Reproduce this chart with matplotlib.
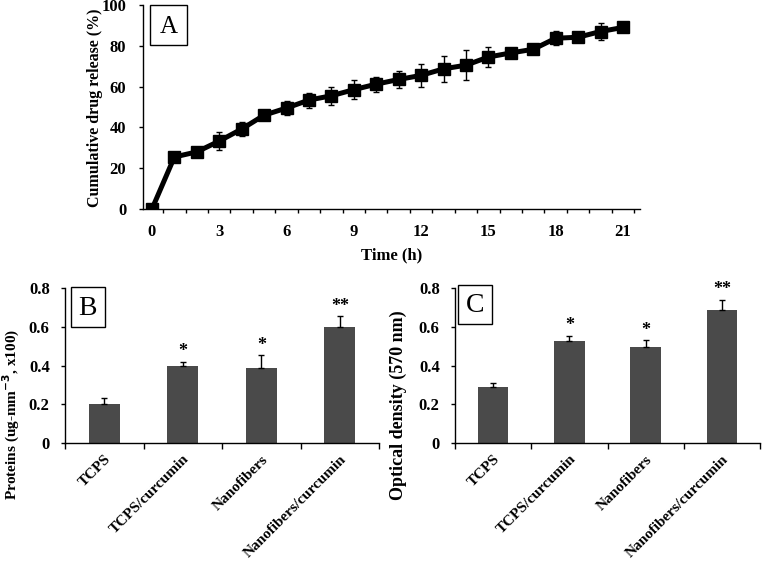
import numpy as np
import matplotlib
matplotlib.use("Agg")
import matplotlib.pyplot as plt
from matplotlib.patches import Rectangle

plt.rcParams['font.family'] = 'Liberation Serif'
plt.rcParams['font.weight'] = 'bold'

# Panel A data
time_h = list(range(22))
release = [0, 25.5, 28, 33.3, 39.2, 46, 49.5, 53.4, 55.5, 58.5, 61.2, 63.5,
           65.5, 68.7, 70.5, 74.5, 76.5, 78.3, 83.7, 84.2, 87, 89]
release_err = [0.5, 1, 1.5, 4.5, 3.5, 1.2, 3.5, 3.7, 4.5, 4.5, 3.7, 4.3,
               5.5, 6.5, 7.5, 4.8, 1.5, 2, 3.5, 2, 4, 2]

# Panels B and C data
groups = ["TCPS", "TCPS/curcumin", "Nanofibers", "Nanofibers/curcumin"]
proteins = [0.2, 0.399, 0.387, 0.598]
proteins_err = [0.034, 0.02, 0.065, 0.057]
density = [0.29, 0.529, 0.498, 0.685]
density_err = [0.021, 0.024, 0.032, 0.055]
stars = ["", "*", "*", "**"]

W, H = 762, 562
fig = plt.figure(figsize=(W / 100, H / 100), dpi=100)


def px_axes(left, right, top, bottom):
    return fig.add_axes([left / W, 1 - bottom / H, (right - left) / W, (bottom - top) / H])


def style(ax):
    for s in ["top", "right"]:
        ax.spines[s].set_visible(False)
    for s in ["left", "bottom"]:
        ax.spines[s].set_linewidth(1.0)
    ax.tick_params(direction="out", length=3, width=1, labelsize=12)


def label_box(ax, x0, y0, w, h, letter, size):
    ax.add_patch(Rectangle((x0, y0), w, h, transform=ax.transAxes, fill=False,
                           lw=1.0, ec="black", clip_on=False))
    ax.text(x0 + w / 2, y0 + h / 2 - 0.01, letter, transform=ax.transAxes, ha="center",
            va="center", fontsize=size, fontweight="normal")


# Panel A
axA = px_axes(143, 640, 5, 209)
style(axA)
axA.errorbar(time_h, release, yerr=release_err, color="black", lw=3.6, marker="s",
             markersize=8, ecolor="black", elinewidth=1, capsize=2.5, zorder=3)
axA.set_xlim(-0.4, 21.76)
axA.set_ylim(0, 100)
axA.set_xticks(range(0, 22, 3))
axA.set_xticks(np.arange(0.5, 22, 1), minor=True)
axA.tick_params(axis="x", which="major", length=0, pad=11)
axA.tick_params(axis="x", which="minor", direction="out", length=3, width=1)
axA.tick_params(axis="y", pad=9)
axA.set_yticks(range(0, 101, 20))
axA.set_xlabel("Time (h)", fontsize=12, fontweight="bold", labelpad=5)
fig.text(95 / W, 1 - 108 / H, "Cumulative drug release (%)", rotation=90,
         ha="center", va="center", fontsize=11.5, fontweight="bold")
label_box(axA, 0.014, 0.804, 0.0744, 0.196, "A", 18)


def bar_panel(ax, vals, errs, ylabel, ylab_x, ylab_size, letter, box):
    style(ax)
    x = np.arange(len(groups))
    ax.bar(x, vals, width=0.4, color="#4a4a4a", zorder=2)
    ax.errorbar(x, vals, yerr=[np.zeros(len(vals)), errs], fmt="none", ecolor="black",
                elinewidth=1, capsize=2.5, zorder=3)
    for xi, v, e, s in zip(x, vals, errs, stars):
        if s:
            ax.text(xi, v + e + 0.008, s, ha="center", va="bottom", fontsize=13,
                    fontweight="bold")
    ax.set_xlim(-0.5, 3.5)
    ax.set_ylim(0, 0.8)
    ax.set_yticks([0, 0.2, 0.4, 0.6, 0.8])
    ax.set_yticklabels(["0", "0.2", "0.4", "0.6", "0.8"])
    ax.set_xticks(x)
    ax.set_xticklabels(groups, rotation=45, ha="right", rotation_mode="anchor", fontsize=11)
    ax.set_xticks(np.arange(-0.5, 4, 1), minor=True)
    ax.tick_params(axis="x", which="major", length=0, pad=7)
    ax.tick_params(axis="x", which="minor", direction="out", length=4, width=1)
    ax.tick_params(axis="y", labelsize=12, pad=8)
    fig.text(ylab_x / W, 1 - 500 / H, ylabel, rotation=90, ha="center", va="bottom",
             fontsize=ylab_size, fontweight="bold")
    label_box(ax, *box, letter, 20)


axB = px_axes(65, 379, 288, 443)
bar_panel(axB, proteins, proteins_err, r"Proteins (ug-mm$^{\mathbf{-3}}$, x100)", 11, 11, "B",
          (0.019, 0.748, 0.108, 0.258))

axC = px_axes(455, 760, 288, 443)
bar_panel(axC, density, density_err, "Optical density (570 nm)", 398, 13, "C",
          (0.01, 0.768, 0.111, 0.252))

fig.savefig("out.png", dpi=100)
